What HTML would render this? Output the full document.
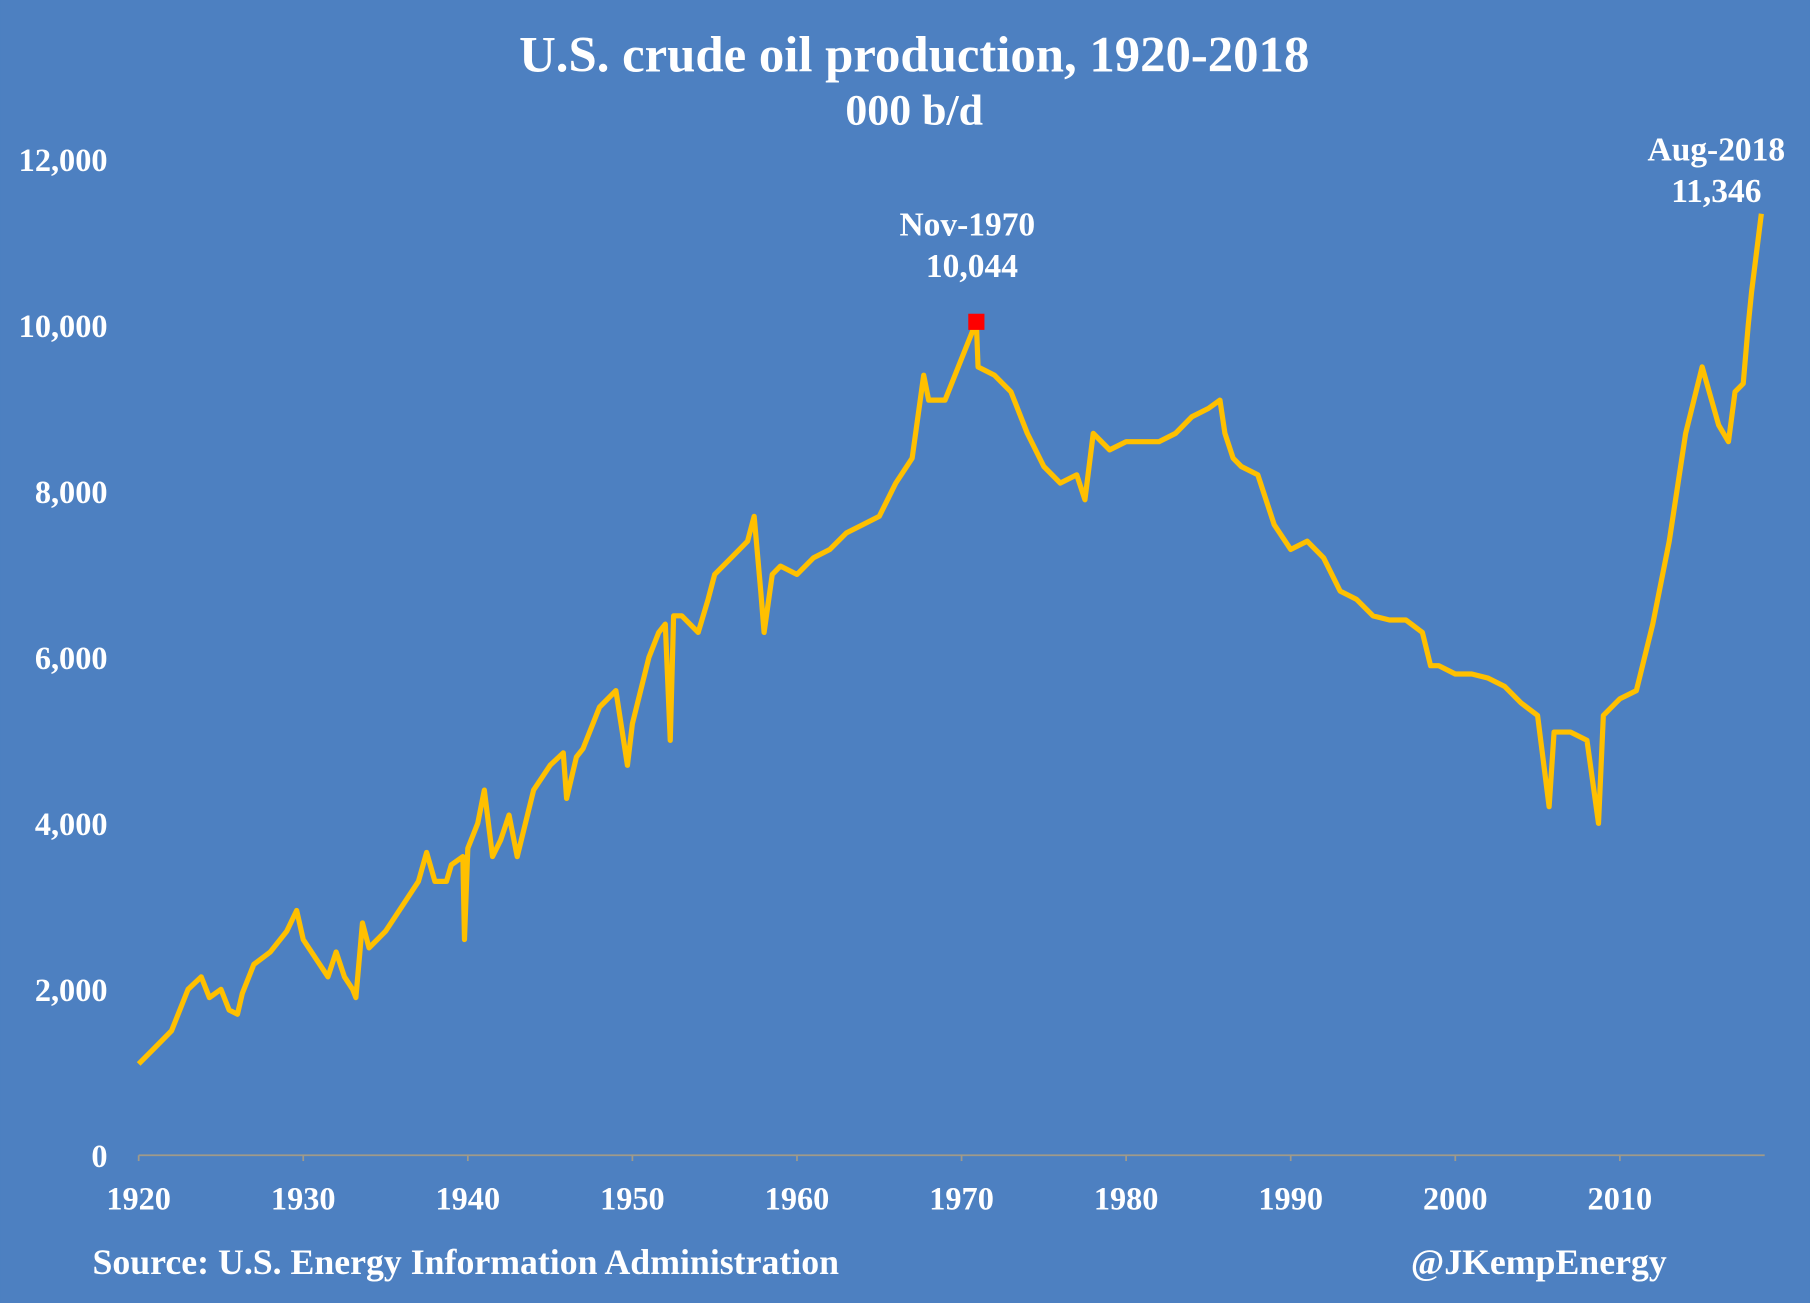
<!DOCTYPE html>
<html><head><meta charset="utf-8"><style>
html,body{margin:0;padding:0;background:#4d80c1;}
svg{display:block;}
text{font-family:"Liberation Serif",serif;font-weight:bold;fill:#fff;}
</style></head><body>
<svg id="chart" width="1810" height="1303" viewBox="0 0 1568 1129" xmlns="http://www.w3.org/2000/svg">
<rect x="0" y="0" width="1568" height="1129" fill="#4d80c1"/>
<text x="792" y="62" font-size="44" text-anchor="middle">U.S. crude oil production, 1920-2018</text>
<text x="792" y="108" font-size="38" text-anchor="middle">000 b/d</text>
<g id="yaxis"></g>
<g id="xaxis"></g>
<path id="series" fill="none" stroke="#ffc000" stroke-width="4.5" stroke-linejoin="round"/>
<rect id="peakmark" width="14" height="14" fill="#ff0000"/>
<text x="838" y="204" font-size="29" text-anchor="middle">Nov-1970</text>
<text x="842" y="240" font-size="29" text-anchor="middle">10,044</text>
<text x="1487" y="139" font-size="29" text-anchor="middle">Aug-2018</text>
<text x="1487" y="175" font-size="29" text-anchor="middle">11,346</text>
<text x="80" y="1104" font-size="31">Source: U.S. Energy Information Administration</text>
<text x="1444" y="1104" font-size="31" text-anchor="end">@JKempEnergy</text>
</svg>
<script>
const years=[1920,1921,1922,1923,1923.8,1924.3,1925,1925.5,1926,1926.3,1927,1928,1929,1929.6,1930,1931,1931.5,1932,1932.5,1933,1933.2,1933.6,1934,1935,1936,1937,1937.5,1938,1938.7,1939,1939.7,1939.8,1940,1940.6,1941,1941.5,1942,1942.5,1943,1943.5,1944,1945,1945.8,1946,1946.6,1947,1948,1949,1949.7,1950,1951,1951.6,1952,1952.3,1952.5,1953,1954,1954.6,1955,1956,1957,1957.4,1957.8,1958,1958.5,1959,1960,1961,1962,1963,1964,1965,1966,1967,1967.7,1968,1969,1970,1970.9,1971,1972,1973,1974,1975,1976,1977,1977.5,1978,1979,1980,1981,1982,1983,1984,1985,1985.7,1986,1986.5,1987,1988,1989,1990,1991,1992,1993,1994,1995,1996,1997,1998,1998.5,1999,2000,2001,2002,2003,2004,2005,2005.7,2006,2007,2008,2008.7,2009,2010,2011,2012,2013,2014,2015,2016,2016.6,2017,2017.5,2017.8,2018,2018.6];
const values=[1100,1300,1500,2000,2150,1900,2000,1750,1700,1950,2300,2450,2700,2950,2600,2300,2150,2450,2150,2000,1900,2800,2500,2700,3000,3300,3650,3300,3300,3500,3600,2600,3700,4000,4400,3600,3800,4100,3600,4000,4400,4700,4850,4300,4800,4900,5400,5600,4700,5200,6000,6300,6400,5000,6500,6500,6300,6700,7000,7200,7400,7700,6800,6300,7000,7100,7000,7200,7300,7500,7600,7700,8100,8400,9400,9100,9100,9600,10044,9500,9400,9200,8700,8300,8100,8200,7900,8700,8500,8600,8600,8600,8700,8900,9000,9100,8700,8400,8300,8200,7600,7300,7400,7200,6800,6700,6500,6450,6450,6300,5900,5900,5800,5800,5750,5650,5450,5300,4200,5100,5100,5000,4000,5300,5500,5600,6400,7400,8700,9500,8800,8600,9200,9300,10000,10400,11346];
const yTicks=[0,2000,4000,6000,8000,10000,12000];
const xTicks=[1920,1930,1940,1950,1960,1970,1980,1990,2000,2010];
const peakYear=1970.9, peakValue=10044;
const NS="http://www.w3.org/2000/svg";
const xs=y=>120+(y-1920)*14.26;
const ys=v=>1001-v*0.0719;
const ya=document.getElementById('yaxis'), xa=document.getElementById('xaxis');
yTicks.forEach(t=>{const e=document.createElementNS(NS,'text');


e.setAttribute('x',93);e.setAttribute('y',ys(t)+10);e.setAttribute('font-size','28');e.setAttribute('text-anchor','end');
e.textContent=t.toLocaleString('en-US');ya.appendChild(e);});
const ax=document.createElementNS(NS,'line');


ax.setAttribute('x1',xs(1920));ax.setAttribute('x2',xs(2018.8));ax.setAttribute('y1',ys(0));ax.setAttribute('y2',ys(0));ax.setAttribute('stroke','#a09a8a');ax.setAttribute('stroke-width','1.5');xa.appendChild(ax);
xTicks.forEach(t=>{const l=document.createElementNS(NS,'line');


l.setAttribute('x1',xs(t));l.setAttribute('x2',xs(t));l.setAttribute('y1',ys(0));l.setAttribute('y2',ys(0)+5);l.setAttribute('stroke','#a09a8a');l.setAttribute('stroke-width','1.5');xa.appendChild(l);
const e=document.createElementNS(NS,'text');


e.setAttribute('x',xs(t));e.setAttribute('y',1048);e.setAttribute('font-size','28');e.setAttribute('text-anchor','middle');
e.textContent=t;xa.appendChild(e);});
document.getElementById('series').setAttribute('d',years.map((y,i)=>(i?'L':'M')+xs(y).toFixed(1)+' '+ys(values[i]).toFixed(1)).join(' '));
const pm=document.getElementById('peakmark');
pm.setAttribute('x',xs(peakYear)-7);pm.setAttribute('y',ys(peakValue)-7);
</script>
</body></html>
